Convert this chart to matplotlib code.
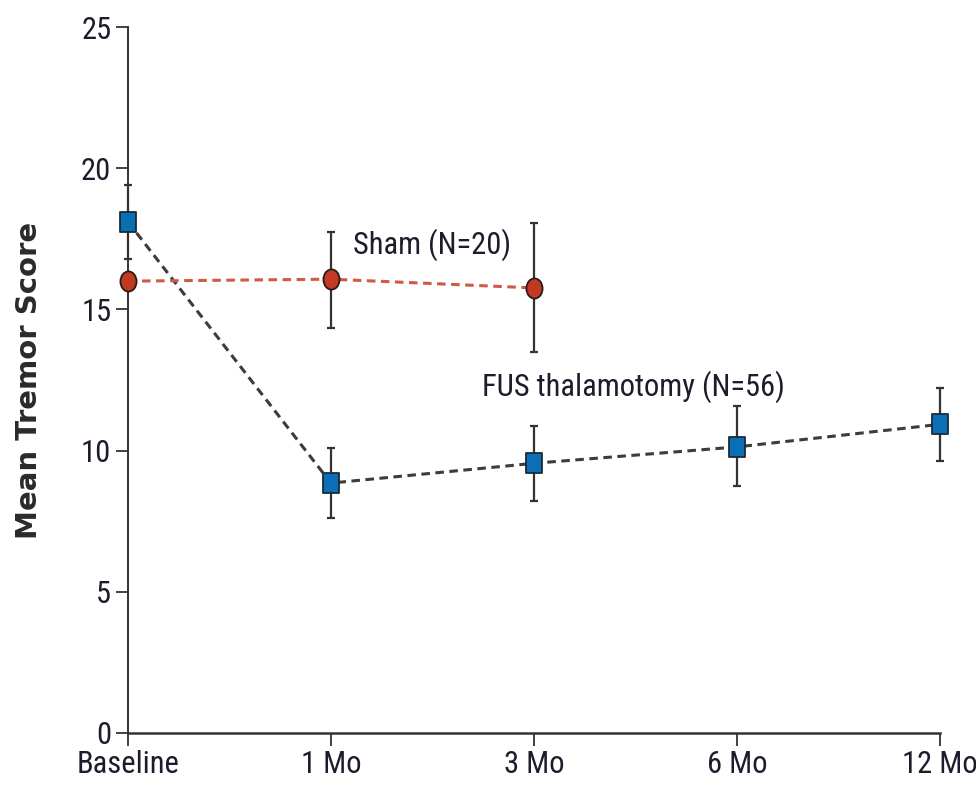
import matplotlib
matplotlib.use("Agg")
import matplotlib.pyplot as plt
from matplotlib import font_manager
from matplotlib.path import Path

timepoints = ["Baseline", "1 Mo", "3 Mo", "6 Mo", "12 Mo"]
fus_mean = [18.1, 8.85, 9.55, 10.13, 10.93]
fus_lo = [16.8, 7.6, 8.2, 8.75, 9.63]
fus_hi = [19.4, 10.1, 10.87, 11.58, 12.22]
sham_x = [0, 1, 2]
sham_mean = [16.0, 16.07, 15.76]
sham_lo = [None, 14.35, 13.5]
sham_hi = [None, 17.74, 18.05]
yticks = [0, 5, 10, 15, 20, 25]

# pick a condensed font if one is installed
cond = None
pref = ["Liberation Sans Narrow", "Roboto Condensed", "DejaVu Sans Condensed",
        "Open Sans Condensed", "Noto Sans Condensed"]
names = {f.name for f in font_manager.fontManager.ttflist}
for p in pref:
    if p in names:
        cond = p
        break
if cond is None:
    for f in font_manager.fontManager.ttflist:
        if str(f.stretch) in ("condensed", "semi-condensed", "extra-condensed", "600", "700") \
                or "Condensed" in f.fname or "Narrow" in f.fname:
            if f.style == "normal":
                cond = f.name
                break
if cond is not None:
    fam = [cond, 'DejaVu Sans']
    fs = 22
else:
    fam = ['DejaVu Sans']
    fs = 17
plt.rcParams['font.family'] = fam
stretch_kw = {}
if cond is not None:
    stretch_kw = {"fontstretch": "condensed"}

fig = plt.figure(figsize=(9.76, 7.9), dpi=100)
ax = fig.add_axes([0.1311, 0.0722, 0.832, 0.8936])

blue = "#0a6fb5"
red = "#c23a22"
txtc = "#1c1c2c"

rect = Path([(-0.8, -1), (0.8, -1), (0.8, 1), (-0.8, 1), (-0.8, -1)],
            [Path.MOVETO, Path.LINETO, Path.LINETO, Path.LINETO, Path.CLOSEPOLY])
circ0 = Path.unit_circle()
ell = Path(circ0.vertices * [0.8, 1.0], circ0.codes)

xf = list(range(len(timepoints)))
# FUS line
ax.plot(xf, fus_mean, ls=(0, (2.8, 1.8)), color="#3c3c3c", lw=2.2, zorder=2, clip_on=False)
for x, m, lo, hi in zip(xf, fus_mean, fus_lo, fus_hi):
    ax.errorbar([x], [m], yerr=[[m - lo], [hi - m]], fmt='none', ecolor="#333333",
                elinewidth=1.6, capsize=3.2, capthick=1.6, zorder=3, clip_on=False)
ax.plot(xf, fus_mean, ls='none', marker=rect, ms=15, mfc=blue, mec="#1a2a3a", mew=1.3,
        zorder=5, clip_on=False)

# Sham
ax.plot(sham_x, sham_mean, ls=(0, (2.8, 1.8)), color="#cf5a48", lw=2.2, zorder=2, clip_on=False)
for x, m, lo, hi in zip(sham_x, sham_mean, sham_lo, sham_hi):
    if lo is None:
        continue
    ax.errorbar([x], [m], yerr=[[m - lo], [hi - m]], fmt='none', ecolor="#333333",
                elinewidth=1.6, capsize=3.2, capthick=1.6, zorder=3, clip_on=False)
ax.plot(sham_x, sham_mean, ls='none', marker=ell, ms=14.5, mfc=red, mec="#2a1a1a", mew=1.3,
        zorder=5, clip_on=False)

ax.text(1.5, 17.3, "Sham (N=20)", fontsize=fs, color=txtc, ha='center', va='center', **stretch_kw)
ax.text(2.49, 12.25, "FUS thalamotomy (N=56)", fontsize=fs, color=txtc, ha='center', va='center',
        **stretch_kw)

ax.set_xlim(0, 4)
ax.set_ylim(0, 25)
ax.set_xticks(xf)
ax.set_xticklabels(timepoints, fontsize=fs, color=txtc, **stretch_kw)
ax.set_yticks(yticks)
ax.set_yticklabels([str(v) for v in yticks], fontsize=fs, color=txtc, **stretch_kw)
ax.tick_params(axis='x', direction='out', length=9, width=1.3, color="#333333", pad=3)
ax.tick_params(axis='y', direction='out', length=9, width=1.3, color="#333333", pad=3)
for s in ['top', 'right']:
    ax.spines[s].set_visible(False)
ax.spines['left'].set_color("#333333")
ax.spines['bottom'].set_color("#333333")
ax.spines['left'].set_linewidth(1.4)
ax.spines['bottom'].set_linewidth(1.8)
ax.set_ylabel("Mean Tremor Score", fontsize=21, fontweight='bold', color="#2a2a2a",
              family=['DejaVu Sans'])
ax.yaxis.set_label_coords(-0.105, 0.50)

fig.savefig("out.png", dpi=100)
